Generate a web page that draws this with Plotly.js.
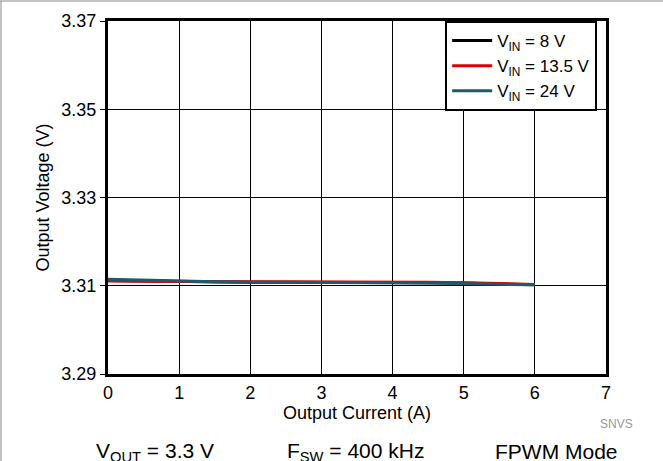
<!DOCTYPE html>
<html><head><meta charset="utf-8">
<script src="https://cdn.plot.ly/plotly-3.0.1.min.js"></script>
<style>html,body{margin:0;padding:0;background:#fff}#c{width:663px;height:461px}</style>
</head><body><div id="c"></div>
<script>
const current = [0, 0.5, 1, 1.5, 2, 2.5, 3, 3.5, 4, 4.5, 5, 5.5, 6];
const vin8 = [3.3112, 3.3111, 3.3109, 3.3108, 3.3108, 3.3108, 3.3108, 3.3107, 3.3107, 3.3107, 3.3106, 3.3104, 3.3102];
const vin13_5 = [3.3111, 3.3110, 3.3110, 3.3109, 3.3109, 3.3109, 3.3109, 3.3108, 3.3108, 3.3108, 3.3107, 3.3105, 3.3103];
const vin24 = [3.3115, 3.3113, 3.3110, 3.3109, 3.3108, 3.3108, 3.3108, 3.3107, 3.3107, 3.3106, 3.3105, 3.3104, 3.3102];
const seriesNames = ['V<sub>IN</sub> = 8 V', 'V<sub>IN</sub> = 13.5 V', 'V<sub>IN</sub> = 24 V'];
const yTicks = [3.29, 3.31, 3.33, 3.35, 3.37];
const xTicks = [0, 1, 2, 3, 4, 5, 6, 7];

const font = 'Liberation Sans, Arial, sans-serif';
const traces = [
  {x: current, y: vin8, name: seriesNames[0], mode: 'lines', line: {color: '#000000', width: 3}},
  {x: current, y: vin13_5, name: seriesNames[1], mode: 'lines', line: {color: '#e00000', width: 3}},
  {x: current, y: vin24, name: seriesNames[2], mode: 'lines', line: {color: '#1d5a6c', width: 3}}
];
const layout = {
  width: 663, height: 461,
  margin: {l: 108, r: 57, t: 21, b: 87},
  paper_bgcolor: '#fff', plot_bgcolor: '#fff',
  font: {family: font, size: 18, color: '#000'},
  showlegend: true,
  legend: {x: 0.677, y: 1, xanchor: 'left', yanchor: 'top', bordercolor: '#000', borderwidth: 2,
           bgcolor: '#fff', font: {size: 17}, tracegroupgap: 0, itemwidth: 40},
  xaxis: {range: [0, 7], tickvals: xTicks, ticktext: xTicks.map(String), showgrid: true, gridcolor: '#000', gridwidth: 1,
          zeroline: false, showline: true, linecolor: '#000', linewidth: 3, mirror: true, ticks: '',
          tickfont: {size: 18},
          title: {text: 'Output Current (A)', font: {size: 18}, standoff: 2}},
  yaxis: {range: [3.29, 3.37], tickvals: yTicks, ticktext: yTicks.map(v => v.toFixed(2)), showgrid: true, gridcolor: '#000', gridwidth: 1,
          zeroline: false, showline: true, linecolor: '#000', linewidth: 3, mirror: true, ticks: 'outside', ticklen: 5, tickcolor: '#000',
          tickfont: {size: 18},
          title: {text: 'Output Voltage (V)', font: {size: 18}, standoff: 8}},
  shapes: [
    {type: 'line', xref: 'paper', yref: 'paper', x0: -108/498, x1: 1 + 57/498, y0: 1 + 20/353, y1: 1 + 20/353, line: {color: '#888', width: 1}},
    {type: 'line', xref: 'paper', yref: 'paper', x0: -107/498, x1: -107/498, y0: 1 + 20/353, y1: -87/353, line: {color: '#888', width: 1}}
  ],
  annotations: [
    {text: 'SNVS', xref: 'paper', yref: 'paper', x: 1 + 29/498, y: -50/353, xanchor: 'right', yanchor: 'middle', showarrow: false, font: {size: 12, color: '#999'}},
    {text: 'V<sub>OUT</sub> = 3.3 V', xref: 'paper', yref: 'paper', x: (155-108)/498, y: -78/353, xanchor: 'center', yanchor: 'middle', showarrow: false, font: {size: 21}},
    {text: 'F<sub>SW</sub> = 400 kHz', xref: 'paper', yref: 'paper', x: (355-108)/498, y: -78/353, xanchor: 'center', yanchor: 'middle', showarrow: false, font: {size: 21}},
    {text: 'FPWM Mode', xref: 'paper', yref: 'paper', x: (556-108)/498, y: -78/353, xanchor: 'center', yanchor: 'middle', showarrow: false, font: {size: 21}}
  ]
};
Plotly.newPlot('c', traces, layout, {displayModeBar: false, staticPlot: true});
</script></body></html>
